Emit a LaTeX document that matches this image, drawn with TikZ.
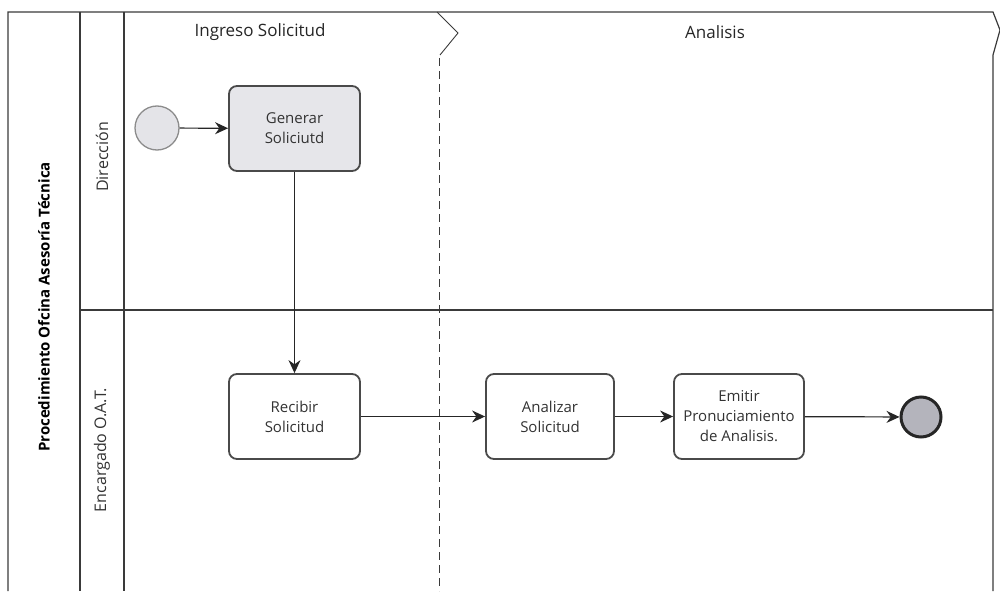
\documentclass[tikz,border=0pt]{standalone}
\usepackage{fontspec}
\setmainfont{Open Sans}
\usetikzlibrary{arrows.meta}
\definecolor{linegray}{HTML}{3A3A3A}
\definecolor{boxedge}{HTML}{4A4A4A}
\definecolor{taskfill}{HTML}{E6E6EA}
\definecolor{startfill}{HTML}{E4E4E8}
\definecolor{endfill}{HTML}{B4B4BC}
\tikzset{
  frame/.style={draw=linegray, line width=1.2pt},
  phaseline/.style={draw=linegray, line width=0.9pt, dash pattern=on 8pt off 5pt},
  task/.style={draw=boxedge, line width=1.8pt, rounded corners=8pt, minimum width=131pt,
    minimum height=85pt, align=center, font=\fontsize{15}{20}\selectfont, text=black!80},
  flow/.style={draw=black!85, line width=1.2pt, -{Stealth[length=13pt,width=12pt]}},
  lanelabel/.style={rotate=90, font=\fontsize{16}{18}\selectfont, text=black!80},
  phaselabel/.style={font=\fontsize{17}{20}\selectfont, text=black!85}
}
\begin{document}
\begin{tikzpicture}[x=1pt,y=-1pt]
\useasboundingbox (0,0) rectangle (1000,591);
% pool frame and lanes
\draw[frame] (8,591) -- (8,12) -- (993,12) -- (1000,30) -- (993,55) -- (993,591);
\draw[frame] (80,12) -- (80,591);
\draw[frame] (124,12) -- (124,591);
\draw[frame] (80,310) -- (993,310);
% phase separator
\draw[frame, line width=0.9pt] (437,12) -- (458,33) -- (440,55);
\draw[phaseline] (439,58) -- (439,591);
% labels
\node[phaselabel] (ph1) at (260,32) {Ingreso Solicitud};
\node[phaselabel] (ph2) at (715,32) {Analisis};
\node[rotate=90, font=\bfseries\fontsize{15}{17}\selectfont] (pool) at (44,307) {Procedimiento Ofcina Asesoría Técnica};
\node[lanelabel] (lane1) at (102,157) {Dirección};
\node[lanelabel] (lane2) at (102,450) {Encargado O.A.T.};
% events and tasks
\node[circle, draw=black!45, line width=1.3pt, fill=startfill, minimum size=44pt, inner sep=0pt] (start) at (157,128) {};
\node[task, fill=taskfill] (gen) at (294.5,128.5) {Generar\\Soliciutd};
\node[task, fill=white] (rec) at (294.5,416.5) {Recibir\\Solicitud};
\node[task, fill=white, minimum width=128pt] (ana) at (550,416.5) {Analizar\\Solicitud};
\node[task, fill=white, minimum width=130pt] (emi) at (739,416.5) {Emitir\\Pronuciamiento\\de Analisis.};
\node[circle, draw=black!85, line width=3pt, fill=endfill, minimum size=40pt, inner sep=0pt] (end) at (921,417) {};
% sequence flows
\draw[flow] (start) -- (gen);
\draw[flow] (gen) -- (rec);
\draw[flow] (rec) -- (ana);
\draw[flow] (ana) -- (emi);
\draw[flow] (emi) -- (end);
\end{tikzpicture}
\end{document}
